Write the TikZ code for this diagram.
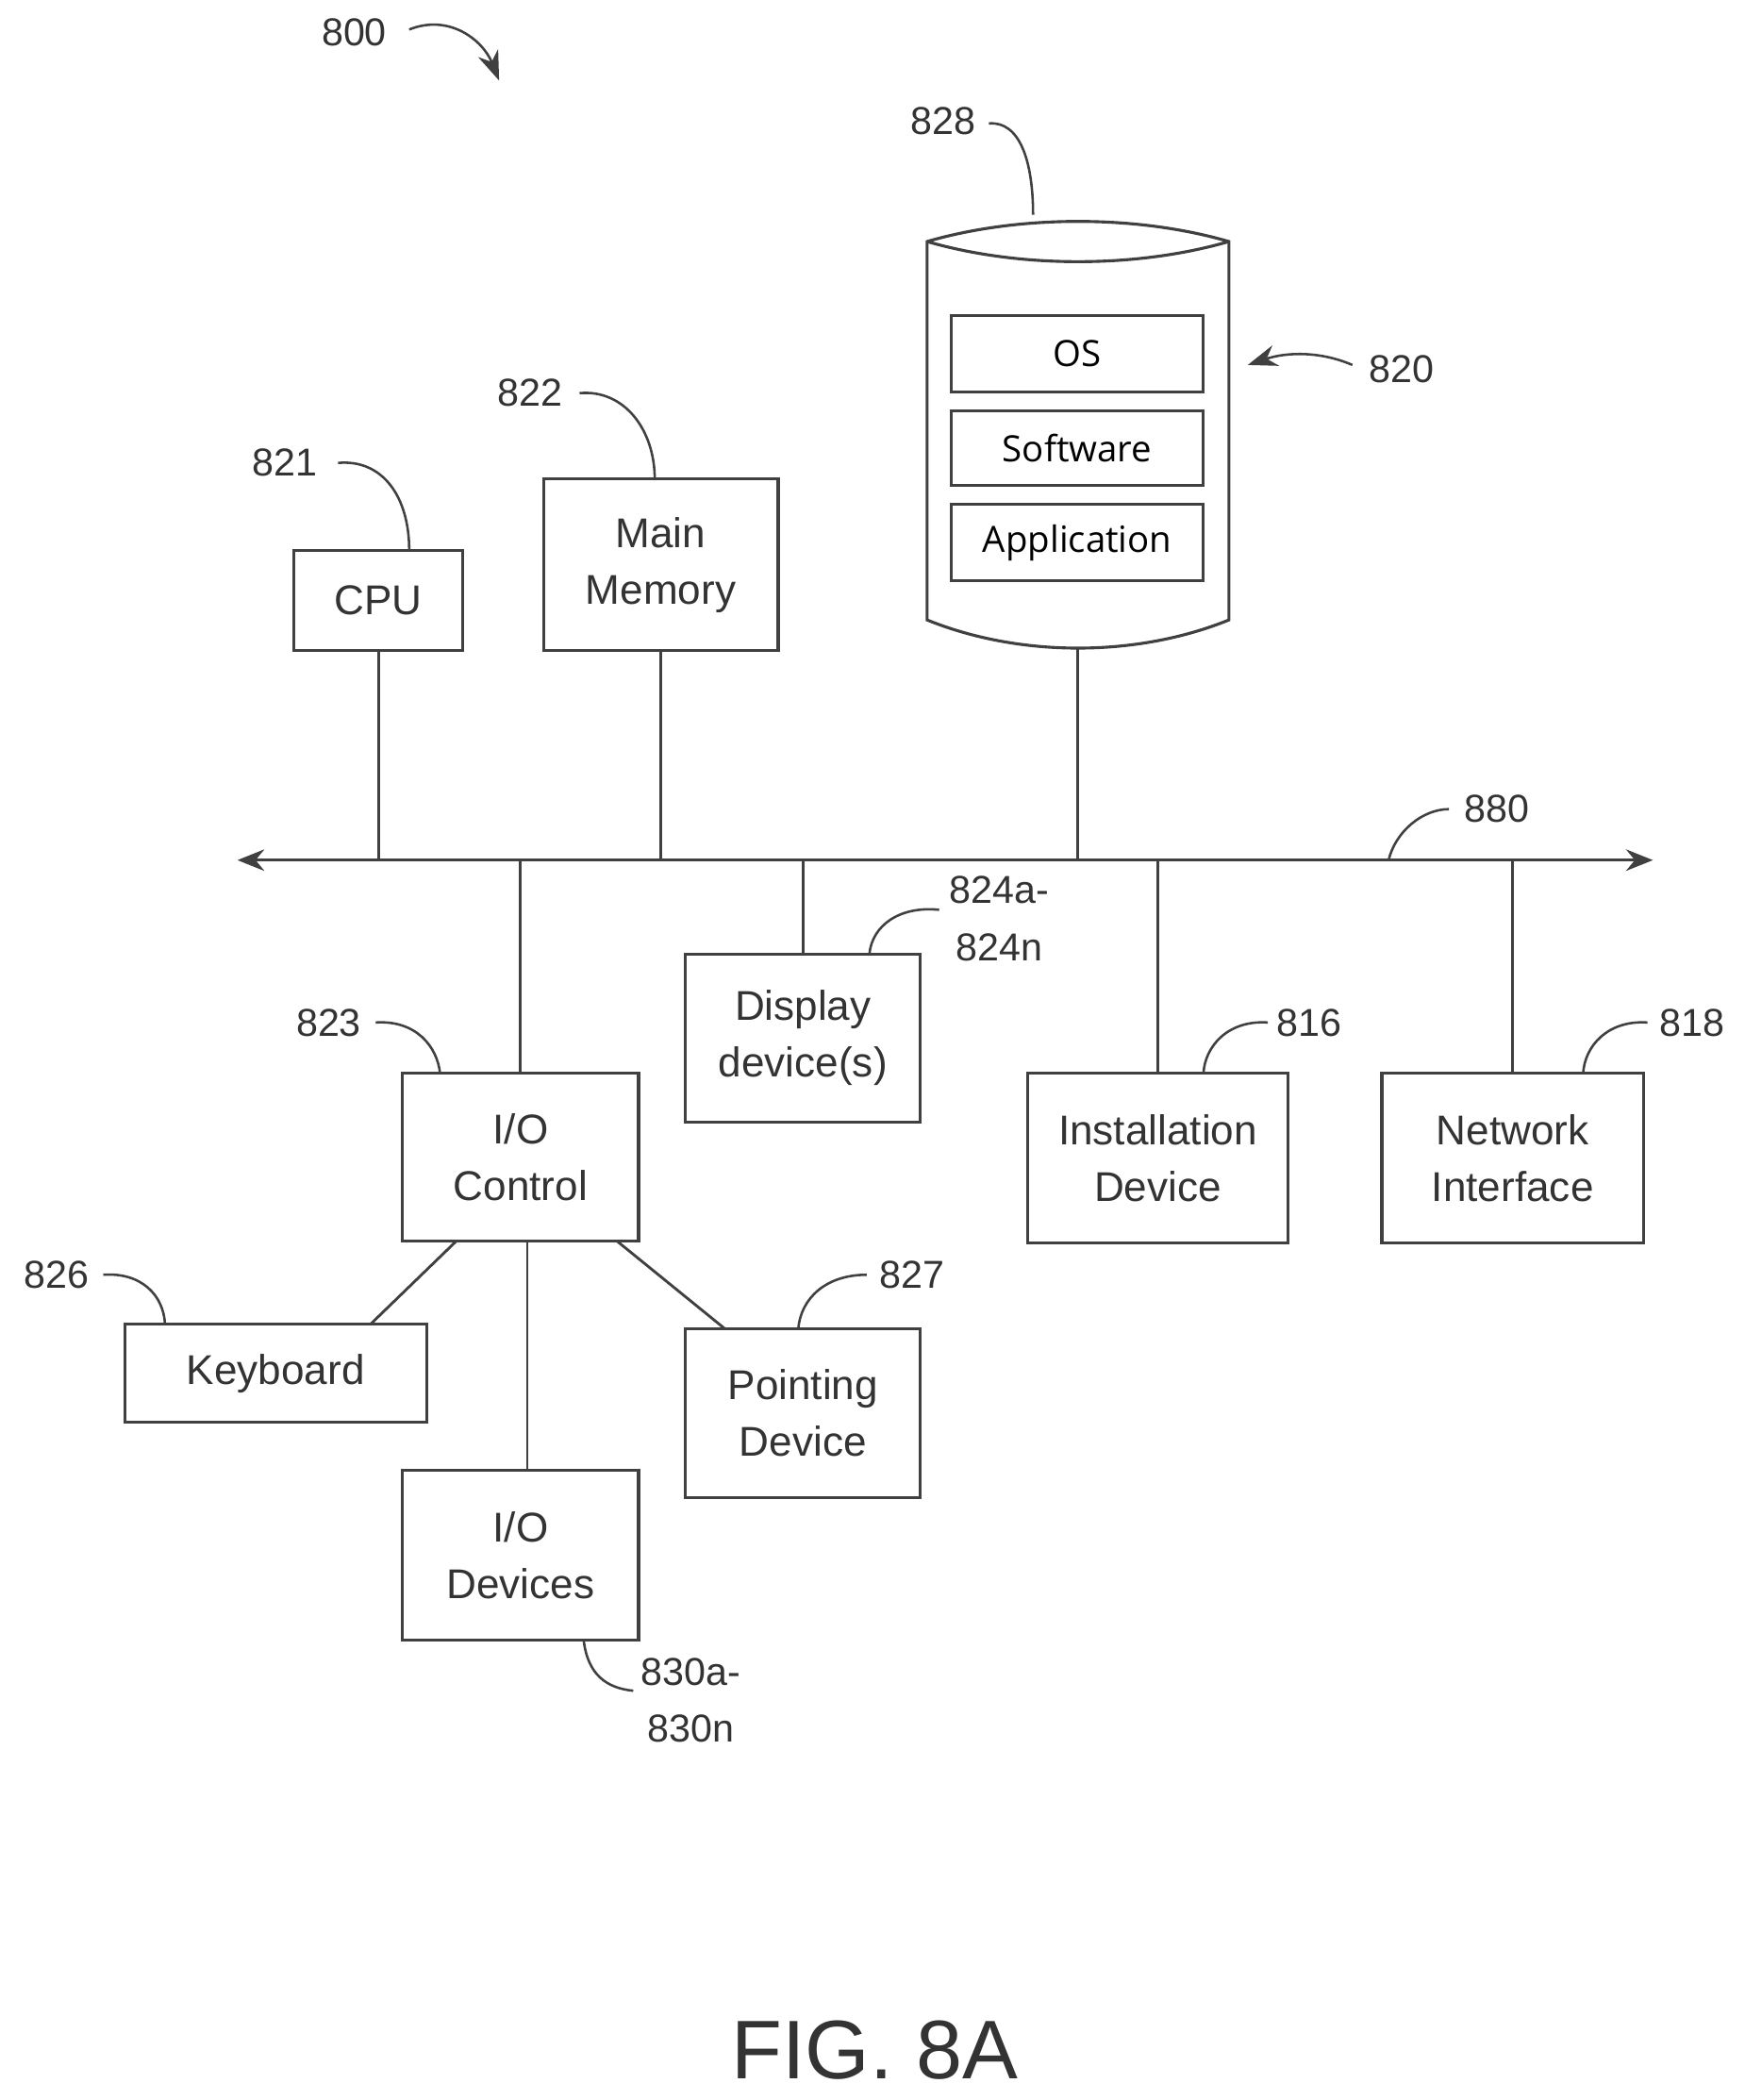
\documentclass[tikz,border=0pt]{standalone}
\usepackage{fontspec}
\setmainfont{Liberation Sans}
\newfontfamily\osf{Open Sans}
\usetikzlibrary{arrows.meta}
\begin{document}
\begin{tikzpicture}[x=1pt,y=-1pt,
  box/.style={draw=black!75,line width=2.2pt},
  ln/.style={draw=black!75,line width=2pt},
  lead/.style={draw=black!75,line width=1.8pt},
  lbl/.style={font=\fontsize{31}{42}\selectfont,text=black!80,align=center},
  num/.style={font=\fontsize{29}{33}\selectfont,text=black!80,align=left,inner sep=1pt},
  tip/.style={-{Stealth[length=22pt,width=16pt]}}]
\useasboundingbox (0,0) rectangle (1300,1565);
% boxes
\node[box,minimum width=126pt,minimum height=75pt,lbl] (cpu) at (282,447.5) {CPU};
\node[box,minimum width=175pt,minimum height=128pt,lbl] (mm) at (492.5,421) {Main\\Memory};
\node[box,minimum width=175pt,minimum height=125pt,lbl] (disp) at (598.5,773.5) {Display\\device(s)};
\node[box,minimum width=176pt,minimum height=125pt,lbl] (io) at (388,862.5) {I/O\\Control};
\node[box,minimum width=194pt,minimum height=126pt,lbl] (inst) at (863,863) {Installation\\Device};
\node[box,minimum width=195pt,minimum height=126pt,lbl] (net) at (1127.5,863) {Network\\Interface};
\node[box,minimum width=225pt,minimum height=73pt,lbl] (kb) at (205.5,1023.5) {Keyboard};
\node[box,minimum width=175pt,minimum height=126pt,lbl] (pt) at (598.5,1053) {Pointing\\Device};
\node[box,minimum width=176pt,minimum height=126pt,lbl] (iod) at (388,1159) {I/O\\Devices};
% storage cylinder
\draw[box] (691,180) .. controls (760,160) and (847,160) .. (916,180) -- (916,462)
  .. controls (847,490) and (760,490) .. (691,462) -- cycle;
\draw[box] (691,180) .. controls (760,200) and (847,200) .. (916,180);
\node[box,minimum width=188pt,minimum height=57pt,font=\osf\fontsize{27}{30}\selectfont] (os) at (803,263.5) {OS};
\node[box,minimum width=188pt,minimum height=56pt,font=\osf\fontsize{27}{30}\selectfont] (sw) at (803,334) {Software};
\node[box,minimum width=188pt,minimum height=57pt,font=\osf\fontsize{27}{30}\selectfont] (app) at (803,404.5) {Application};
\coordinate (stb) at (803.5,483);
% bus
\coordinate (bl) at (177,641); \coordinate (br) at (1232,641);
\draw[ln,{Stealth[length=20pt,width=16pt]}-{Stealth[length=20pt,width=16pt]}] (bl) -- (br);
\draw[ln] (cpu.south) -- (cpu.south |- bl);
\draw[ln] (mm.south) -- (mm.south |- bl);
\draw[ln] (stb) -- (stb |- bl);
\draw[ln] (io.north) -- (io.north |- bl);
\draw[ln] (disp.north) -- (disp.north |- bl);
\draw[ln] (inst.north) -- (inst.north |- bl);
\draw[ln] (net.north) -- (net.north |- bl);
\draw[ln] (340,925) -- (276,987);
\draw[ln] (393,925) -- (393,1096);
\draw[ln] (460,925) -- (540,990);
% labels
\node[num] (n800) at (264,24) {800};
\draw[lead,tip] (305,22) .. controls (335,10) and (360,30) .. (372,60);
\node[num] (n828) at (703,90) {828};
\draw[lead] (737,92) .. controls (760,90) and (770,120) .. (770,160);
\node[num] (n820) at (1045,275) {820};
\draw[lead,tip] (1008,272) .. controls (985,262) and (960,262) .. (930,272);
\node[num] (n822) at (395,293) {822};
\draw[lead] (432,293) .. controls (465,290) and (488,320) .. (488,357);
\node[num] (n821) at (212,345) {821};
\draw[lead] (252,345) .. controls (285,342) and (305,370) .. (305,410);
\node[num] (n880) at (1116,603) {880};
\draw[lead] (1080,603) .. controls (1060,603) and (1040,620) .. (1035,641);
\node[num] at (745,663) {824a-};
\node[num] (n824) at (745,706) {824n};
\draw[lead] (700,678) .. controls (670,675) and (650,690) .. (648,711);
\node[num] (n823) at (245,762) {823};
\draw[lead] (280,762) .. controls (310,760) and (326,780) .. (328,800);
\node[num] (n816) at (976,762) {816};
\draw[lead] (945,762) .. controls (915,760) and (898,780) .. (897,800);
\node[num] (n818) at (1261,762) {818};
\draw[lead] (1228,762) .. controls (1198,760) and (1181,780) .. (1180,800);
\node[num] (n826) at (42,950) {826};
\draw[lead] (77,950) .. controls (105,948) and (122,965) .. (123,987);
\node[num] (n827) at (680,950) {827};
\draw[lead] (646,950) .. controls (615,950) and (597,968) .. (595,990);
\node[num] at (515,1246) {830a-};
\node[num] (n830) at (515,1288) {830n};
\draw[lead] (435,1222) .. controls (438,1248) and (452,1258) .. (472,1260);
\node[font=\fontsize{62}{70}\selectfont,text=black!80] (fig) at (652,1528) {FIG. 8A};
\end{tikzpicture}
\end{document}
